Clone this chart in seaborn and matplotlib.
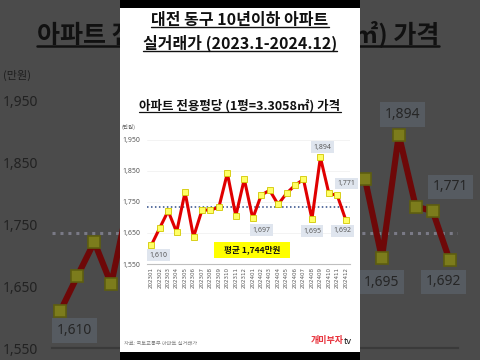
import numpy as np
import pandas as pd
import matplotlib
matplotlib.use("Agg")
import matplotlib.pyplot as plt
import seaborn as sns
from matplotlib.patches import Rectangle
from matplotlib.lines import Line2D

# ---------------- data ----------------
months = ["202301", "202302", "202303", "202304", "202305", "202306",
          "202307", "202308", "202309", "202310", "202311", "202312",
          "202401", "202402", "202403", "202404", "202405", "202406",
          "202407", "202408", "202409", "202410", "202411", "202412"]
prices = [1610, 1666, 1721, 1653, 1782, 1637, 1724, 1724, 1733, 1843, 1705, 1824,
          1697, 1772, 1788, 1742, 1778, 1804, 1823, 1695, 1894, 1778, 1771, 1692]
avg_line_level = 1735          # level of the dotted average line
y_ticks = [1550, 1650, 1750, 1850, 1950]
y_tick_labels = ["1,550", "1,650", "1,750", "1,850", "1,950"]
labeled_idx = [0, 12, 19, 20, 22, 23]

title_l1 = "대전 동구 10년이하 아파트"
title_l2 = "실거래가 (2023.1-2024.12)"
subtitle = "아파트 전용평당 (1평=3.3058㎡) 가격"
unit = "(만원)"
avg_text = "   평균 1,744만원   "
source = "자료: 국토교통부 아파트 실거래가"
logo_main, logo_tail = "개미부자", "tv"

df = pd.DataFrame({"idx": np.arange(len(months)), "month": months, "price": prices})

# ---------------- style ----------------
sns.set_theme(style="white")
plt.rcParams["font.family"] = ["Noto Sans CJK KR", "DejaVu Sans"]
NUM_FONT = ["Noto Sans", "DejaVu Sans"]

W, H = 480, 360
PANEL_L, PANEL_R = 120, 360
fig = plt.figure(figsize=(4.8, 3.6), dpi=100)
fig.patch.set_facecolor("#4b4b4b")


def rect(l, t, r, b):
    return [l / W, 1 - b / H, (r - l) / W, (b - t) / H]


def fx(x):
    return x / W


def fy(y):
    return 1 - y / H


# label offsets in pixels (dx, dy down positive)
label_off = [(7, 10), (9, 12), (0, 12), (2, -10), (9, -12), (-3, 11)]


def draw_chart(ax, s, dark):
    if dark:
        line_c, mfc, mec = "#6e0808", "#7c7c1c", "#5e5e10"
        tick_c, box_c, box_t = "#222222", "#565b61", "#262626"
        avg_c, spine_c = "#7a7a86", "#3a3a3a"
    else:
        line_c, mfc, mec = "#e00000", "#ffff66", "#d2c800"
        tick_c, box_c, box_t = "#595959", "#dfe5ee", "#595959"
        avg_c, spine_c = "#2e4a86", "#bfbfbf"
    ax.set_xlim(-0.5, len(months) - 0.5)
    ax.set_ylim(1550, 1950)
    if not dark:
        for t in y_ticks:
            ax.axhline(t, color="#efefef", lw=0.5 * s, zorder=0)
    ax.axhline(avg_line_level, color=avg_c, ls=(0, (1, 1.6)), lw=1.1 * s, zorder=1)
    sns.lineplot(data=df, x="idx", y="price", ax=ax, color=line_c, lw=2.2 * s,
                 marker="s", markersize=4.3 * s, markerfacecolor=mfc,
                 markeredgecolor=mec, markeredgewidth=0.6 * s, zorder=2)
    ax.set_xlim(-0.5, len(months) - 0.5)
    ax.set_ylim(1550, 1950)
    for i, (dx, dy) in zip(labeled_idx, label_off):
        if dark:
            # skip labels that lie fully behind the white panel
            px = ax.transData.transform((i, prices[i]))[0] + dx * s
            if PANEL_L + 20 < px < PANEL_R - 20:
                continue
        ax.annotate(f"{prices[i]:,}", (i, prices[i]), xytext=(dx * 0.72 * s, -dy * 0.72 * s),
                    textcoords="offset points", ha="center", va="center",
                    fontsize=5 * s, color=box_t, zorder=3, family=NUM_FONT,
                    bbox=dict(boxstyle="square,pad=0.35", fc=box_c, ec="none"))
    ax.set_yticks(y_ticks)
    ax.set_yticklabels(y_tick_labels, fontsize=5 * s, color=tick_c, family=NUM_FONT)
    ax.set_xticks(np.arange(len(months)))
    if dark:
        ax.set_xticklabels([])
    else:
        ax.set_xticklabels(months, rotation=90, fontsize=4.0, color=tick_c,
                           family="DejaVu Sans")
    ax.tick_params(axis="y", length=0, pad=5 * s)
    ax.tick_params(axis="x", length=0, pad=2 * s)
    ax.set_xlabel("")
    ax.set_ylabel("")
    for k in ["top", "right", "left"]:
        ax.spines[k].set_visible(False)
    ax.spines["bottom"].set_color(spine_c)
    ax.spines["bottom"].set_linewidth(0.8 * s)
    ax.patch.set_alpha(0)
    if ax.get_legend():
        ax.get_legend().remove()


# ---------------- background (zoomed, darkened copy) ----------------
ax_bg = fig.add_axes(rect(52, 100, 458, 348))
ax_bg.set_zorder(0)
draw_chart(ax_bg, 2, True)
bg_title = fig.text(fx(238), fy(34), subtitle, ha="center", va="center",
                    fontsize=18, fontweight="bold", color="#111111", zorder=0.5)
fig.text(fx(3), fy(75), unit, ha="left", va="center", fontsize=8,
         color="#1e1e1e", zorder=0.5)

# ---------------- panel ----------------
fig.add_artist(Rectangle((fx(PANEL_L), 0), fx(PANEL_R) - fx(PANEL_L), 1,
                         transform=fig.transFigure, fc="black", ec="none", zorder=1))
fig.add_artist(Rectangle((fx(PANEL_L), fy(352)), fx(PANEL_R) - fx(PANEL_L), fy(8) - fy(352),
                         transform=fig.transFigure, fc="white", ec="none", zorder=1.1))

ax = fig.add_axes(rect(147, 140, 350, 264))
ax.set_zorder(2)
draw_chart(ax, 1, False)

t1 = fig.text(fx(240), fy(19.5), title_l1, ha="center", va="center", fontsize=11.5,
              fontweight="bold", color="#111111", zorder=3)
t2 = fig.text(fx(240), fy(43), title_l2, ha="center", va="center", fontsize=11.5,
              fontweight="bold", color="#111111", zorder=3)
st = fig.text(fx(240), fy(106), subtitle, ha="center", va="center", fontsize=9,
              fontweight="bold", color="#111111", zorder=3)
fig.text(fx(122), fy(127), unit, ha="left", va="center", fontsize=4, color="#595959", zorder=3)
fig.text(fx(252), fy(250), avg_text, ha="center", va="center", fontsize=6.2,
         fontweight="bold", color="#111111", zorder=3,
         bbox=dict(boxstyle="square,pad=0.45", fc="#ffff00", ec="none"))
fig.text(fx(124), fy(343), source, ha="left", va="center", fontsize=3.8,
         color="#7f7f7f", zorder=3)

# logo, right aligned at x=352
fig.canvas.draw()
renderer = fig.canvas.get_renderer()
tv = fig.text(fx(352), fy(341), logo_tail, ha="right", va="center", fontsize=6.5,
              fontweight="bold", color="#1a1a1a", zorder=3, family=NUM_FONT)
bb = tv.get_window_extent(renderer)
fig.text(bb.x0 / W, fy(341), logo_main, ha="right", va="center", fontsize=6.5,
         fontweight="bold", color="#e8323c", zorder=3)

# underlines
fig.canvas.draw()
for t, lw, z, off in [(t1, 1.0, 3, 0.5), (t2, 1.0, 3, 0.5), (st, 0.9, 3, 0.5),
                      (bg_title, 1.8, 0.5, 1.0)]:
    bb = t.get_window_extent(renderer)
    y = bb.y0 + off
    fig.add_artist(Line2D([bb.x0 / W, bb.x1 / W], [y / H, y / H], transform=fig.transFigure,
                          color="#111111", lw=lw, zorder=z))

fig.savefig("out.png", dpi=100)
